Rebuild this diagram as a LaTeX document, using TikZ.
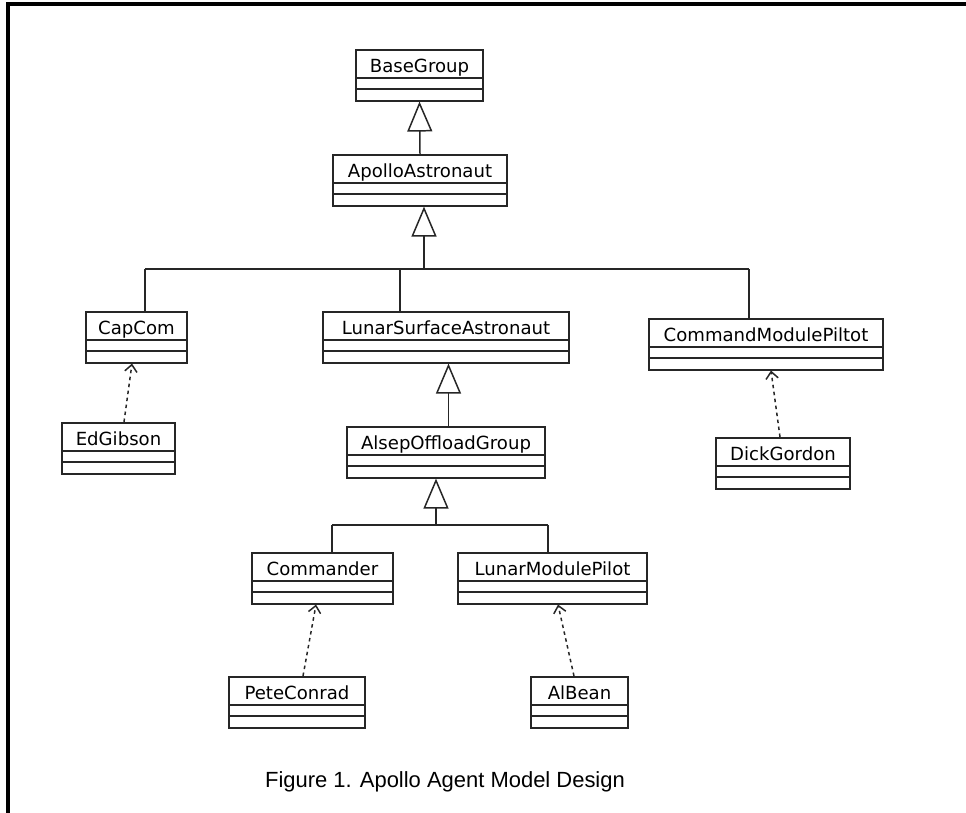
\documentclass[tikz,border=0pt]{standalone}
\usepackage{fontspec}
\newfontfamily\umlfont{DejaVu Sans}
\newfontfamily\capfont{Liberation Sans}
\usepackage{tikz}
\usetikzlibrary{arrows.meta, positioning, calc}

\begin{document}
\begin{tikzpicture}[x=0.02cm, y=-0.02cm,
    cls/.style={draw=black!85, line width=0.9pt, fill=white, anchor=north, inner xsep=0pt, inner ysep=0pt, text height=0.45cm, text depth=0.57cm, font=\umlfont\fontsize{10.3}{12}\selectfont,
        path picture={\draw[black!85, line width=0.9pt]
            ([yshift=-0.56cm]path picture bounding box.north west) -- ([yshift=-0.56cm]path picture bounding box.north east)
            ([yshift=-0.78cm]path picture bounding box.north west) -- ([yshift=-0.78cm]path picture bounding box.north east);}},
    gen/.style={draw=black!85, line width=0.85pt, -{Triangle[open, length=0.6cm, width=0.5cm, fill=white]}},
    link/.style={draw=black!85, line width=0.85pt},
    dep/.style={draw=black!85, line width=0.85pt, dash pattern=on 2pt off 2pt, -{Straight Barb[length=4pt, width=7pt]}},
    frame/.style={draw=black, line width=1.8pt}
]
    \useasboundingbox (0,0) rectangle (966,813);

    % Frame
    \coordinate (fnw) at (8,4);
    \path [frame] (8,813) -- (fnw) -- (966,4);

    % Classes
    \node [cls, minimum width=2.54cm] (base) at (419.5,49) {BaseGroup};
    \node [cls, minimum width=3.48cm] (apollo) at (420,154) {ApolloAstronaut};
    \node [cls, minimum width=2.02cm] (capcom) at (136.5,311) {CapCom};
    \node [cls, minimum width=4.92cm] (lsa) at (446,311) {LunarSurfaceAstronaut};
    \node [cls, minimum width=4.68cm] (cmp) at (766,318) {CommandModulePiltot};
    \node [cls, minimum width=3.96cm] (alsep) at (446,426) {AlsepOffloadGroup};
    \node [cls, minimum width=2.82cm] (cmdr) at (322.5,552) {Commander};
    \node [cls, minimum width=3.78cm] (lmp) at (552.5,552) {LunarModulePilot};

    % Instances
    \node [cls, minimum width=2.26cm] (edgibson) at (118.5,422) {EdGibson};
    \node [cls, minimum width=2.68cm] (dickgordon) at (783,437) {DickGordon};
    \node [cls, minimum width=2.72cm] (peteconrad) at (297,676) {PeteConrad};
    \node [cls, minimum width=1.94cm] (albean) at (579.5,676) {AlBean};

    % Caption
    \node [font=\capfont\fontsize{12.5}{15}\selectfont] (caption) at (445,782) {Figure 1. Apollo Agent Model Design};

    % Generalisation
    \coordinate (bus1) at (424,269);
    \coordinate (tapcapcom) at (145,269);
    \coordinate (taplsa) at (400,269);
    \coordinate (tapcmp) at (749,269);
    \coordinate (bus2) at (436,525);
    \coordinate (tapcmdr) at (332,525);
    \coordinate (taplmp) at (548,525);

    \path [gen] (apollo.north) -- (base.south);
    \path [gen] (bus1) -- (bus1 |- apollo.south);
    \path [link] (tapcapcom) -- (tapcmp);
    \path [link] (tapcapcom) -- (tapcapcom |- capcom.north);
    \path [link] (taplsa) -- (taplsa |- lsa.north);
    \path [link] (tapcmp) -- (tapcmp |- cmp.north);
    \path [gen] ([xshift=0.05cm]alsep.north) -- ([xshift=0.05cm]lsa.south);
    \path [gen] (bus2) -- (bus2 |- alsep.south);
    \path [link] (tapcmdr) -- (taplmp);
    \path [link] (tapcmdr) -- (tapcmdr |- cmdr.north);
    \path [link] (taplmp) -- (taplmp |- lmp.north);

    % Instance-of
    \path [dep] ([xshift=0.11cm]edgibson.north) -- ([xshift=-0.09cm]capcom.south);
    \path [dep] ([xshift=-0.06cm]dickgordon.north) -- ([xshift=0.1cm]cmp.south);
    \path [dep] ([xshift=0.12cm]peteconrad.north) -- ([xshift=-0.13cm]cmdr.south);
    \path [dep] ([xshift=-0.11cm]albean.north) -- ([xshift=0.11cm]lmp.south);
\end{tikzpicture}
\end{document}
